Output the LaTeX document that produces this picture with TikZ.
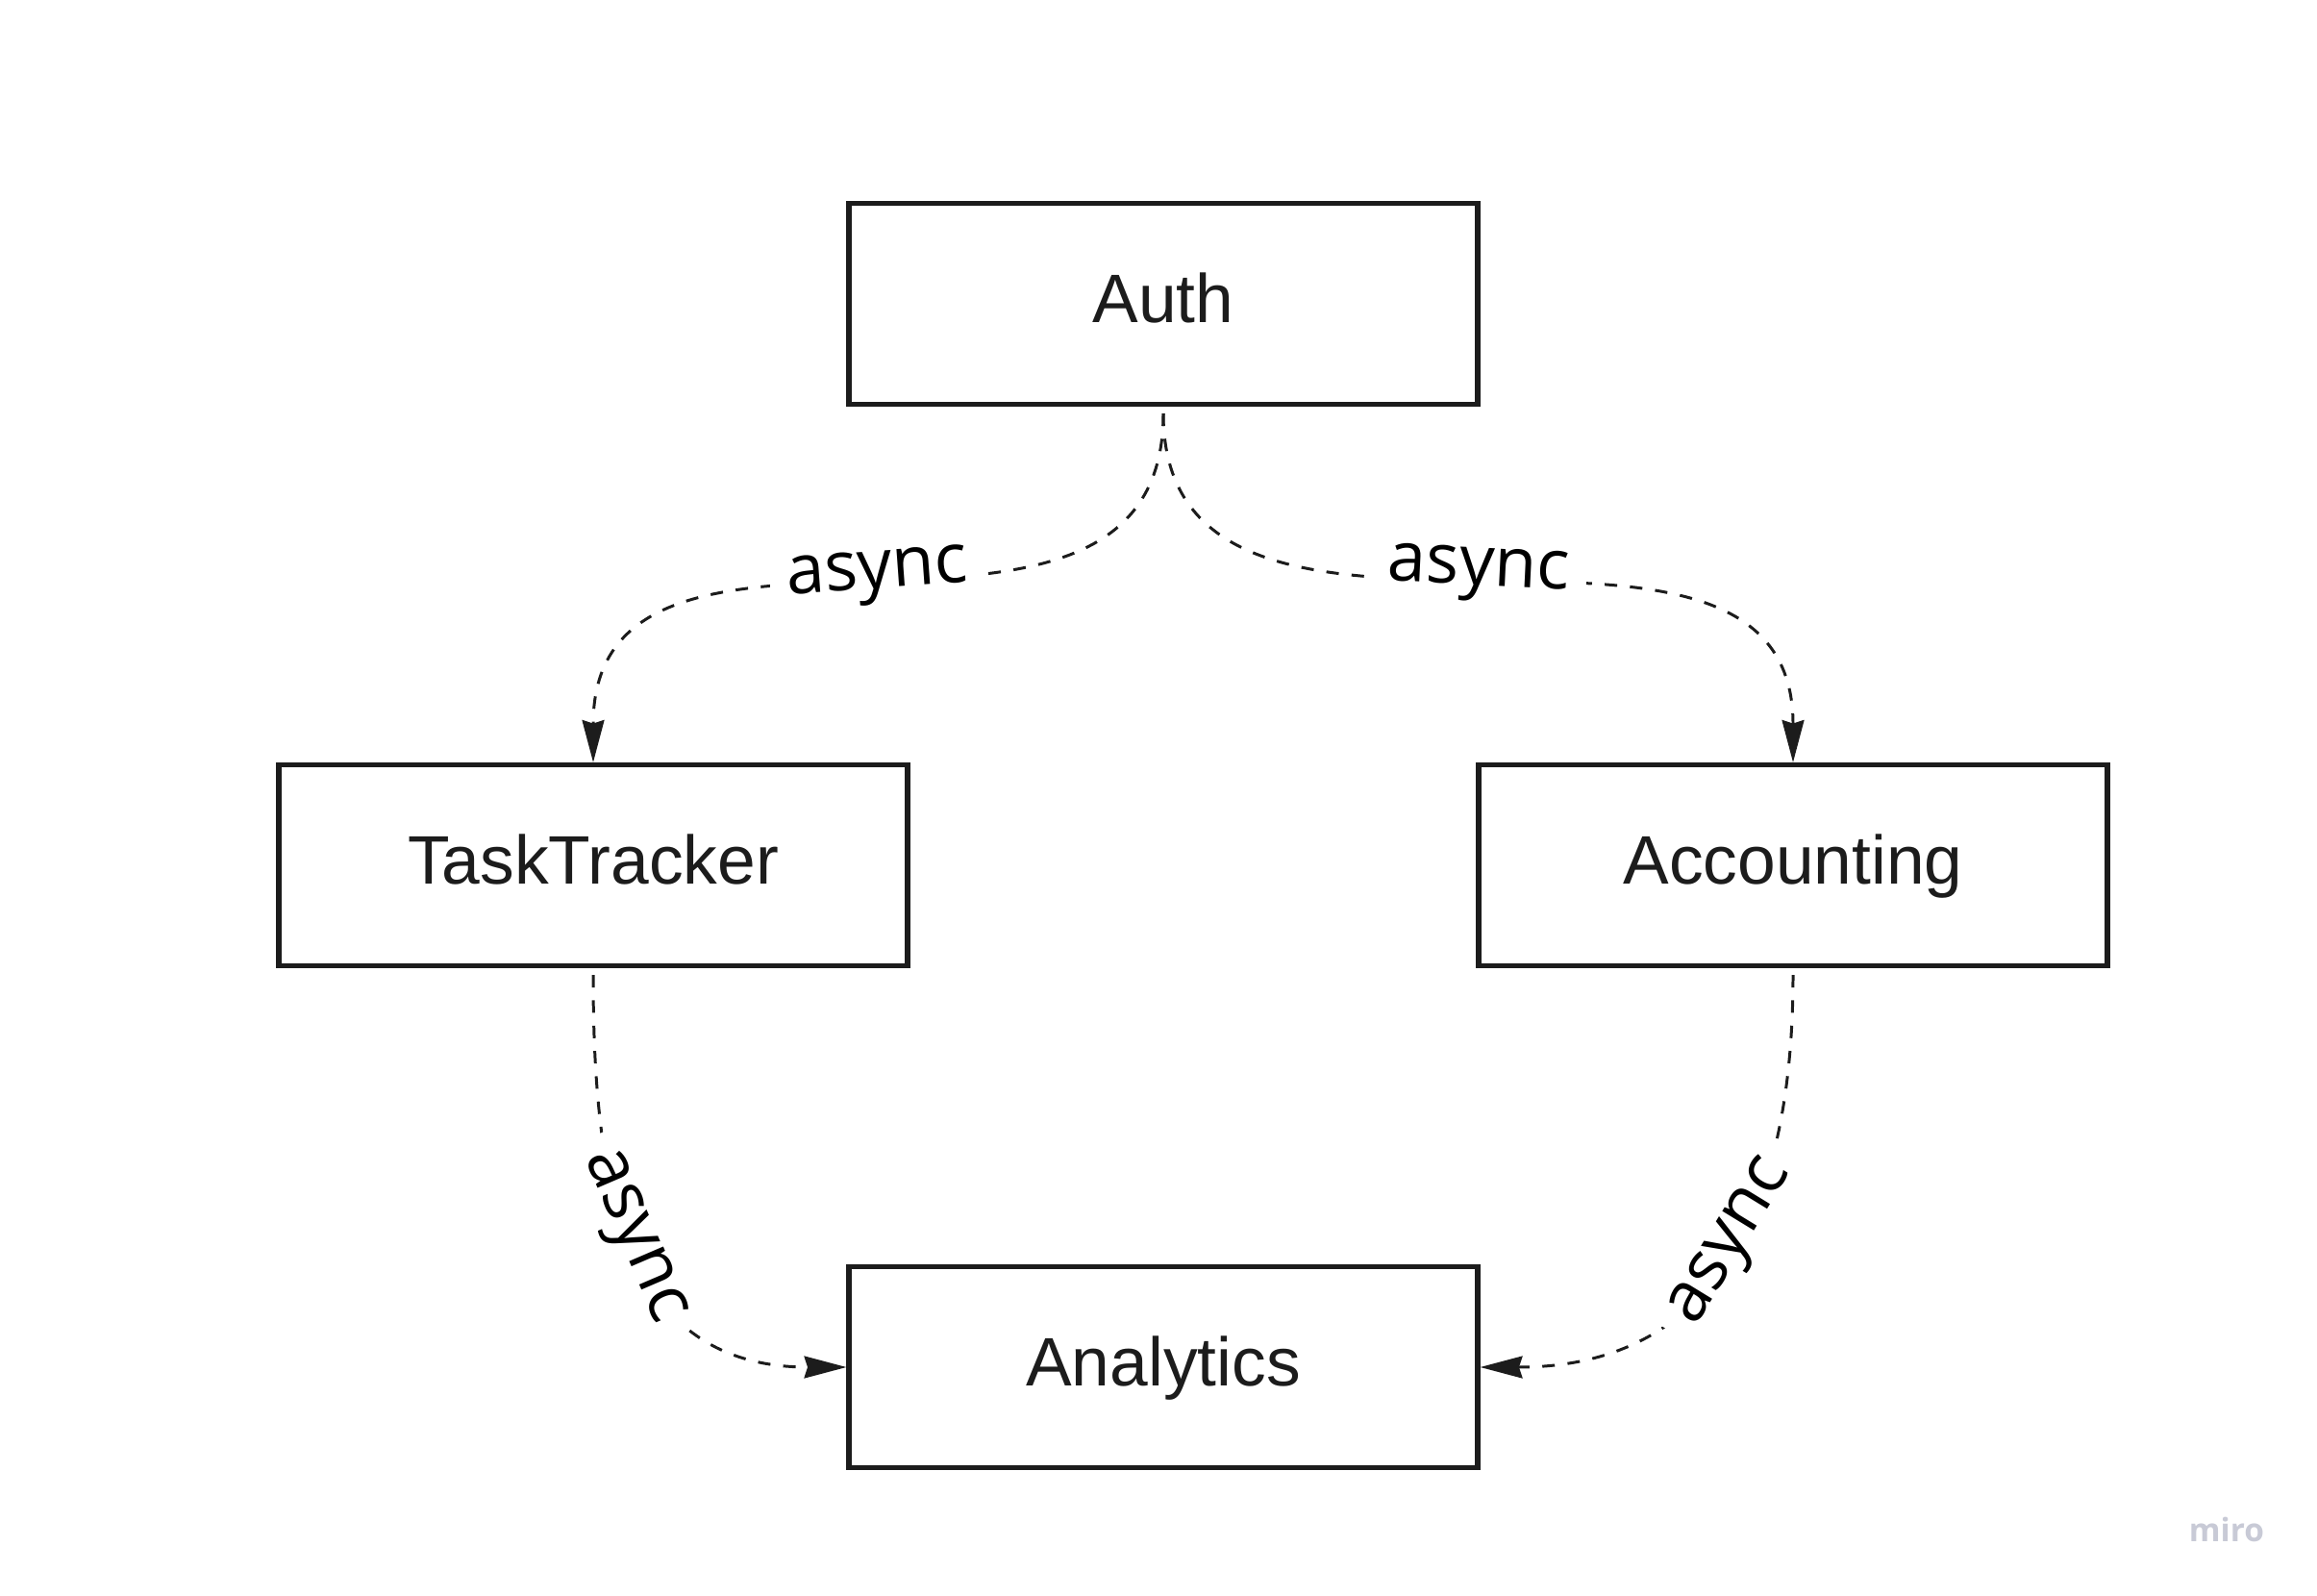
\documentclass[tikz,border=0pt]{standalone}
\usepackage{fontspec}
\setmainfont{Liberation Sans}
\newfontfamily\labelfont{Open Sans}
\usetikzlibrary{arrows.meta}
\definecolor{inkgray}{HTML}{1C1C1C}
\definecolor{brandgray}{HTML}{C8CAD6}

\begin{document}
\begin{tikzpicture}[
  service/.style={draw=inkgray,line width=1.45pt,minimum width=6.54cm,minimum height=2.09cm,text height=0.6cm,text depth=0.21cm,text=inkgray,font=\fontsize{20.3}{24}\selectfont},
  flow/.style={draw=inkgray,line width=0.85pt,dash pattern=on 3.7pt off 3.8pt,-{Stealth[length=12.5pt,width=6.5pt,inset=1pt]},shorten <=2pt},
  tag/.style={fill=white,sloped,inner sep=5pt,text=black,font=\labelfont\fontsize{20.5}{24}\selectfont}
]

\useasboundingbox (0,0) rectangle (24.10,16.59);

\node[service] (auth) at (12.10,13.43) {Auth};
\node[service] (task) at (6.17,7.59) {TaskTracker};
\node[service] (acc) at (18.65,7.59) {Accounting};
\node[service] (analytics) at (12.10,2.37) {Analytics};

\draw[flow] (auth.south) to[out=-90,in=90,looseness=1.2] node[tag,yshift=2pt] {async} (task.north);
\draw[flow] (auth.south) to[out=-90,in=90,looseness=1.15] node[tag,yshift=3pt] {async} (acc.north);
\draw[flow] (task.south) to[out=-90,in=180,looseness=1.2] node[tag,pos=0.47] {async} (analytics.west);
\draw[flow] (acc.south) to[out=-90,in=0,looseness=1.2] node[tag,pos=0.47] {async} (analytics.east);

\node[anchor=base,text=brandgray,font=\labelfont\bfseries\fontsize{9.5}{11}\selectfont] (brand) at (23.16,0.56) {miro};

\end{tikzpicture}
\end{document}
